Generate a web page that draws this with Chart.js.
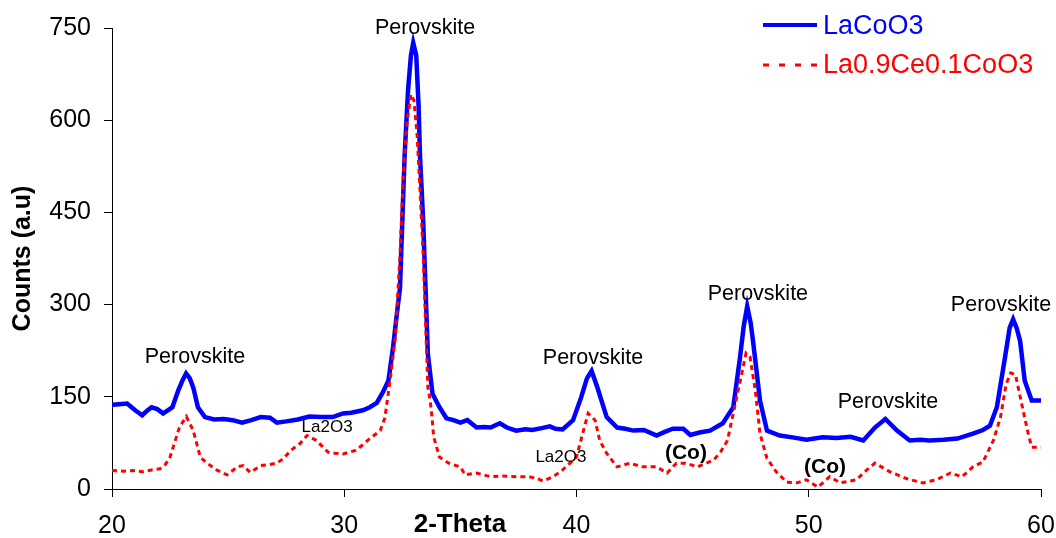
<!DOCTYPE html>
<html>
<head>
<meta charset="utf-8">
<script src="https://cdn.jsdelivr.net/npm/chart.js@4/dist/chart.umd.min.js"></script>
<style>
  html, body { margin: 0; padding: 0; background: #fff; }
  #wrap { width: 1056px; height: 538px; }
</style>
</head>
<body>
<div id="wrap"><canvas id="xrd"></canvas></div>
<script>
// LaCoO3 (blue, solid)
const blueTheta = [20.0, 20.3, 20.65, 21.0, 21.3, 21.5, 21.7, 21.95, 22.2, 22.4, 22.6, 22.85, 23.05, 23.19, 23.35, 23.5, 23.7, 24.0, 24.4, 24.8,
  25.2, 25.6, 26.0, 26.4, 26.8, 27.1, 27.5, 28.0, 28.5, 29.0, 29.5, 29.95, 30.3, 30.55, 30.8, 31.1, 31.4, 31.67, 31.9, 32.1,
  32.25, 32.4, 32.5, 32.6, 32.75, 32.87, 32.97, 33.1, 33.2, 33.26, 33.4, 33.5, 33.6, 33.7, 33.8, 34.1, 34.4, 34.7, 35.0, 35.3,
  35.7, 36.0, 36.3, 36.7, 37.0, 37.4, 37.8, 38.1, 38.5, 38.85, 39.1, 39.4, 39.85, 40.2, 40.45, 40.65, 40.9, 41.3, 41.75, 42.1,
  42.45, 42.9, 43.45, 43.8, 44.15, 44.6, 44.9, 45.3, 45.75, 46.3, 46.75, 47.04, 47.2, 47.35, 47.5, 47.6, 47.9, 48.2, 48.75, 49.3,
  49.9, 50.6, 51.2, 51.8, 52.35, 52.85, 53.3, 53.8, 54.35, 54.8, 55.2, 55.8, 56.4, 57.07, 57.5, 57.8, 58.1, 58.45, 58.65, 58.8,
  58.95, 59.1, 59.3, 59.6, 60.0];
const blueCounts = [137, 138, 139, 128, 120, 127, 133, 130, 123, 128, 133, 160, 178, 188, 180, 165, 133, 117, 113, 114,
  112, 108, 112, 117, 116, 108, 110, 113, 118, 117, 117, 123, 124, 126, 128, 133, 140, 158, 176, 230,
  280, 327, 435, 543, 650, 705, 726, 705, 624, 543, 435, 327, 220, 187, 155, 133, 115, 112, 108, 112,
  100, 101, 100, 107, 100, 95, 97, 96, 99, 102, 98, 97, 112, 149, 180, 192, 165, 117, 100, 98,
  95, 96, 87, 93, 98, 98, 88, 92, 95, 107, 133, 214, 265, 297, 270, 241, 144, 95, 87, 84,
  80, 84, 83, 85, 79, 100, 114, 95, 79, 80, 79, 80, 82, 90, 96, 103, 133, 214, 262, 276,
  262, 241, 176, 144, 144];

// La0.9Ce0.1CoO3 (red, dashed)
const redTheta = [20.0, 20.5, 21.0, 21.3, 21.7, 22.07, 22.3, 22.5, 22.9, 23.2, 23.5, 23.8, 24.1, 24.5, 24.95, 25.4, 25.65, 25.95, 26.4, 26.8,
  27.1, 27.4, 27.7, 28.1, 28.4, 28.8, 29.3, 29.6, 29.95, 30.5, 30.8, 31.1, 31.55, 31.75, 31.97, 32.2, 32.4, 32.55, 32.7, 32.87,
  33.0, 33.13, 33.26, 33.4, 33.5, 33.6, 33.7, 33.78, 33.85, 34.1, 34.5, 35.0, 35.2, 35.7, 36.3, 36.8, 37.4, 37.95, 38.3, 38.55,
  39.0, 39.4, 40.0, 40.3, 40.5, 40.8, 41.0, 41.3, 41.75, 42.3, 42.85, 43.45, 43.9, 44.3, 44.7, 45.2, 45.9, 46.2, 46.5, 46.75,
  47.05, 47.3, 47.47, 47.7, 47.9, 48.2, 48.6, 49.05, 49.5, 49.9, 50.4, 50.9, 51.35, 52.05, 52.5, 52.85, 53.5, 54.2, 54.9, 55.5,
  56.1, 56.6, 57.07, 57.5, 57.95, 58.25, 58.5, 58.7, 58.9, 59.2, 59.45, 59.6, 60.0];
const redCounts = [30, 29, 30, 28, 31, 33, 40, 52, 100, 118, 95, 52, 42, 31, 23, 36, 38, 27, 38, 40,
  42, 50, 63, 74, 87, 79, 60, 58, 57, 63, 72, 82, 95, 116, 176, 246, 381, 516, 596, 642,
  632, 580, 488, 381, 273, 165, 144, 116, 85, 52, 42, 36, 23, 26, 20, 21, 20, 20, 17, 13,
  20, 31, 52, 95, 123, 112, 79, 58, 36, 42, 36, 36, 26, 42, 42, 36, 47, 60, 79, 123,
  176, 221, 215, 160, 90, 50, 28, 11, 10, 15, 3, 20, 10, 15, 31, 42, 28, 17, 10, 15,
  26, 20, 36, 44, 79, 116, 171, 189, 186, 133, 90, 68, 68];

const xTicks = [20, 30, 40, 50, 60];
const yTicks = [0, 150, 300, 450, 600, 750];

// peak labels: text, 2-theta, counts, bold?, size
const peakLabels = [
  ['Perovskite', 23.57, 215, false, 21.5],
  ['Perovskite', 33.48, 750, false, 21.5],
  ['Perovskite', 40.71, 213, false, 21.5],
  ['Perovskite', 47.81, 317, false, 21.5],
  ['Perovskite', 53.41, 141, false, 21.5],
  ['Perovskite', 58.28, 299, false, 21.5],
  ['La2O3', 29.26, 100, false, 17],
  ['La2O3', 39.33, 52, false, 17],
  ['(Co)', 44.71, 58, true, 21],
  ['(Co)', 50.7, 36, true, 21]
];

const FONT = '"Liberation Sans", Arial, sans-serif';

const toPoints = (xs, ys) => xs.map((x, i) => ({ x: x, y: ys[i] }));

// draws the peak labels, the x title and the legend
const extrasPlugin = {
  id: 'extras',
  afterDraw(chart) {
    const ctx = chart.ctx;
    const xs = chart.scales.x;
    const ys = chart.scales.y;
    ctx.save();
    ctx.textAlign = 'center';
    ctx.textBaseline = 'middle';
    ctx.fillStyle = '#000';
    peakLabels.forEach(([txt, th, c, bold, size]) => {
      ctx.font = (bold ? 'bold ' : '') + size + 'px ' + FONT;
      ctx.fillText(txt, xs.getPixelForValue(th), ys.getPixelForValue(c));
    });

    // x axis title sits between the 30 and 40 labels
    ctx.font = 'bold 26px ' + FONT;
    ctx.fillText('2-Theta', xs.getPixelForValue(34.98), 525);

    // legend
    const lx = 763, lw = 54;
    ctx.textAlign = 'left';
    ctx.font = '27px ' + FONT;
    ctx.lineWidth = 4;
    ctx.strokeStyle = '#0000ff';
    ctx.beginPath(); ctx.moveTo(lx, 25); ctx.lineTo(lx + lw, 25); ctx.stroke();
    ctx.fillStyle = '#0000ff';
    ctx.fillText('LaCoO3', 823, 27);
    ctx.lineWidth = 3;
    ctx.strokeStyle = '#ff0000';
    ctx.setLineDash([6, 10]);
    ctx.beginPath(); ctx.moveTo(lx, 65); ctx.lineTo(lx + lw, 65); ctx.stroke();
    ctx.setLineDash([]);
    ctx.fillStyle = '#ff0000';
    ctx.fillText('La0.9Ce0.1CoO3', 823, 66);
    ctx.restore();
  }
};

new Chart(document.getElementById('xrd'), {
  type: 'line',
  data: {
    datasets: [
      {
        label: 'La0.9Ce0.1CoO3',
        data: toPoints(redTheta, redCounts),
        borderColor: '#ff0000',
        borderWidth: 3,
        borderDash: [5, 4],
        pointRadius: 0,
        tension: 0,
        order: 0
      },
      {
        label: 'LaCoO3',
        data: toPoints(blueTheta, blueCounts),
        borderColor: '#0000ff',
        borderWidth: 4.5,
        pointRadius: 0,
        tension: 0,
        order: 1
      }
    ]
  },
  options: {
    responsive: true,
    maintainAspectRatio: false,
    animation: false,
    events: [],
    layout: { padding: { top: 25, right: 15, left: 0, bottom: 0 } },
    plugins: { legend: { display: false }, tooltip: { enabled: false } },
    scales: {
      x: {
        type: 'linear',
        min: 20,
        max: 60,
        afterBuildTicks: (s) => { s.ticks = xTicks.map(v => ({ value: v })); },
        afterFit: (s) => { s.height = 49; s.paddingLeft = 0; s.paddingRight = 0; },
        grid: { drawOnChartArea: false, drawTicks: true, tickLength: 8, color: '#000' },
        border: { display: true, color: '#000', width: 1 },
        ticks: { color: '#000', padding: 14, maxRotation: 0, font: { family: FONT, size: 25 } }
      },
      y: {
        min: 0,
        max: 750,
        afterBuildTicks: (s) => { s.ticks = yTicks.map(v => ({ value: v })); },
        afterFit: (s) => { s.width = 112; },
        grid: { drawOnChartArea: false, drawTicks: true, tickLength: 8, color: '#000' },
        border: { display: true, color: '#000', width: 1 },
        ticks: { color: '#000', padding: 13, font: { family: FONT, size: 25 } },
        title: {
          display: true,
          text: 'Counts (a.u)',
          color: '#000',
          padding: { top: 8, bottom: 0 },
          font: { family: FONT, size: 25, weight: 'bold' }
        }
      }
    }
  },
  plugins: [extrasPlugin]
});
</script>
</body>
</html>
